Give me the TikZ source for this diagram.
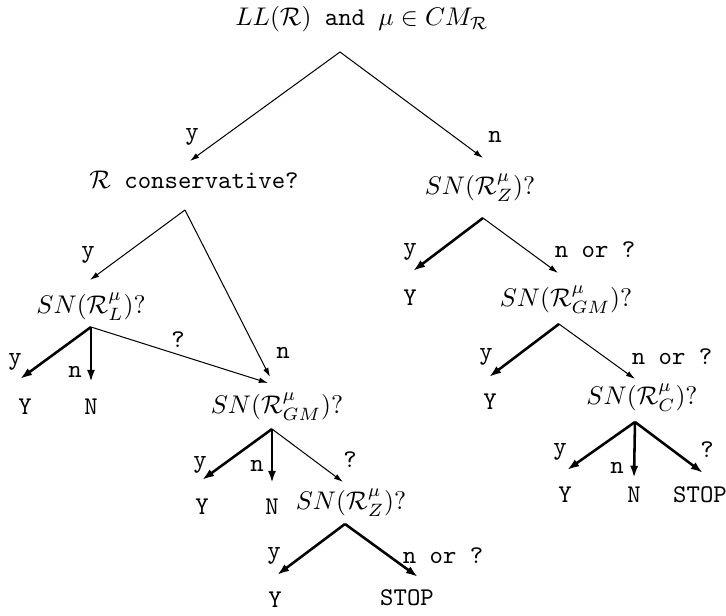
\documentclass[tikz,border=0pt]{standalone}
\usetikzlibrary{arrows.meta}

\tikzset{
  thinarr/.style={-{Latex[length=3.6pt,width=2.2pt]}, line width=0.4pt},
  thickarr/.style={-{Latex[length=4.8pt,width=3.2pt]}, line width=1pt},
  lbl/.style={inner sep=0pt, font=\ttfamily},
  leaf/.style={inner sep=0pt, font=\ttfamily},
  quest/.style={inner sep=0pt}
}

\begin{document}
\begin{tikzpicture}[x=0.392pt, y=-0.392pt]
  \useasboundingbox (0,0) rectangle (726,616);
  % top question
  \node[quest] (root) at (362,19) {$LL(\mathcal{R})$\texttt{ and }$\mu\in CM_{\mathcal{R}}$};
  \coordinate (root-o) at (340,52);
  \node[quest] (cons) at (194,180) {$\mathcal{R}$\texttt{ conservative?}};
  \node[quest] (snza) at (480,188) {$SN(\mathcal{R}^{\mu}_{Z})?$};
  \coordinate (cons-in) at (190,161);
  \coordinate (snza-in) at (483,158);
  \draw[thinarr] (root-o) -- (cons-in);
  \draw[thinarr] (root-o) -- (snza-in);
  \node[lbl] (root-y) at (192,137) {y};
  \node[lbl] (root-n) at (495,137) {n};

  % left branch: conservative
  \coordinate (cons-o) at (185,210);
  \node[quest] (snl) at (91,307) {$SN(\mathcal{R}^{\mu}_{L})?$};
  \node[quest] (sngma) at (277,407) {$SN(\mathcal{R}^{\mu}_{GM})?$};
  \coordinate (snl-in) at (90,280);
  \coordinate (sngma-in) at (270,377);
  \draw[thinarr] (cons-o) -- (snl-in);
  \draw[thinarr] (cons-o) -- (sngma-in);
  \node[lbl] (cons-y) at (88,255) {y};
  \node[lbl] (cons-n) at (283,353) {n};

  % SN(R_L)
  \coordinate (snl-o) at (91,327);
  \node[leaf] (snl-Y) at (25,407) {Y};
  \node[leaf] (snl-N) at (91,407) {N};
  \coordinate (snl-Y-in) at (20,379);
  \coordinate (snl-N-in) at (91,382);
  \coordinate (snl-q-in) at (268,383);
  \draw[thickarr] (snl-o) -- (snl-Y-in);
  \draw[thickarr] (snl-o) -- (snl-N-in);
  \draw[thinarr] (snl-o) -- (snl-q-in);
  \node[lbl] (snl-y) at (15,362) {y};
  \node[lbl] (snl-n) at (75,372) {n};
  \node[lbl] (snl-q) at (178,340) {?};

  % SN(R_GM), left
  \coordinate (sngma-o) at (272,429);
  \node[leaf] (sngma-Y) at (202,507) {Y};
  \node[leaf] (sngma-N) at (272,507) {N};
  \node[quest] (snzb) at (351,503) {$SN(\mathcal{R}^{\mu}_{Z})?$};
  \coordinate (sngma-Y-in) at (202,480);
  \coordinate (sngma-N-in) at (272,483);
  \coordinate (snzb-in) at (343,482);
  \draw[thickarr] (sngma-o) -- (sngma-Y-in);
  \draw[thickarr] (sngma-o) -- (sngma-N-in);
  \draw[thinarr] (sngma-o) -- (snzb-in);
  \node[lbl] (sngma-y) at (200,465) {y};
  \node[lbl] (sngma-n) at (257,466) {n};
  \node[lbl] (sngma-q) at (350,460) {?};

  % SN(R_Z), bottom
  \coordinate (snzb-o) at (345,524);
  \node[leaf] (snzb-Y) at (275,600) {Y};
  \node[leaf] (snzb-S) at (407,598) {STOP};
  \coordinate (snzb-Y-in) at (277,575);
  \coordinate (snzb-S-in) at (418,577);
  \draw[thickarr] (snzb-o) -- (snzb-Y-in);
  \draw[thickarr] (snzb-o) -- (snzb-S-in);
  \node[lbl] (snzb-y) at (274,556) {y};
  \node[lbl] (snzb-n) at (443,556) {n or ?};

  % right branch: SN(R_Z)
  \coordinate (snza-o) at (483,218);
  \node[leaf] (snza-Y) at (410,298) {Y};
  \node[quest] (sngmb) at (566,300) {$SN(\mathcal{R}^{\mu}_{GM})?$};
  \coordinate (snza-Y-in) at (413,271);
  \coordinate (sngmb-in) at (558,273);
  \draw[thickarr] (snza-o) -- (snza-Y-in);
  \draw[thinarr] (snza-o) -- (sngmb-in);
  \node[lbl] (snza-y) at (410,252) {y};
  \node[lbl] (snza-n) at (595,250) {n or ?};

  % SN(R_GM), right
  \coordinate (sngmb-o) at (559,324);
  \node[leaf] (sngmb-Y) at (490,402) {Y};
  \node[quest] (snc) at (642,398) {$SN(\mathcal{R}^{\mu}_{C})?$};
  \coordinate (sngmb-Y-in) at (489,377);
  \coordinate (snc-in) at (635,379);
  \draw[thickarr] (sngmb-o) -- (sngmb-Y-in);
  \draw[thinarr] (sngmb-o) -- (snc-in);
  \node[lbl] (sngmb-y) at (486,357) {y};
  \node[lbl] (sngmb-n) at (672,357) {n or ?};

  % SN(R_C)
  \coordinate (snc-o) at (635,422);
  \node[leaf] (snc-Y) at (565,495) {Y};
  \node[leaf] (snc-N) at (634,495) {N};
  \node[leaf] (snc-S) at (700,495) {STOP};
  \coordinate (snc-Y-in) at (567,470);
  \coordinate (snc-N-in) at (634,478);
  \coordinate (snc-S-in) at (703,473);
  \draw[thickarr] (snc-o) -- (snc-Y-in);
  \draw[thickarr] (snc-o) -- (snc-N-in);
  \draw[thickarr] (snc-o) -- (snc-S-in);
  \node[lbl] (snc-y) at (560,452) {y};
  \node[lbl] (snc-n) at (617,468) {n};
  \node[lbl] (snc-q) at (707,450) {?};
\end{tikzpicture}
\end{document}
